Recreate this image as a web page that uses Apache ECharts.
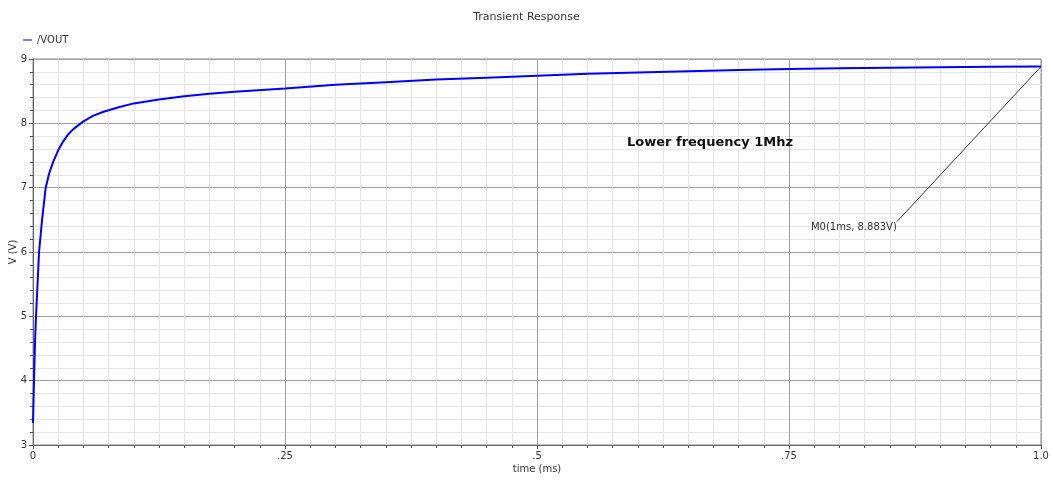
<!DOCTYPE html>
<html>
<head>
<meta charset="utf-8">
<script src="https://cdn.jsdelivr.net/npm/echarts@6/dist/echarts.min.js"></script>
<style>
  html, body { margin: 0; padding: 0; background: #fff; }
  #chart { width: 1053px; height: 484px; }
</style>
</head>
<body>
<div id="chart"></div>
<script>
// time (ms) and /VOUT (V)
var timeMs = [0, 0.001, 0.002, 0.003, 0.0045, 0.006, 0.009, 0.0126, 0.016, 0.02, 0.025, 0.03, 0.035,
  0.04, 0.05, 0.06, 0.07, 0.085, 0.1, 0.125, 0.15, 0.175, 0.2, 0.25, 0.3, 0.35, 0.4, 0.45, 0.5,
  0.55, 0.6, 0.65, 0.7, 0.75, 0.8, 0.85, 0.9, 0.95, 1.0];
var vout = [3.34, 4.0, 4.6, 5.0, 5.5, 6.0, 6.5, 7.0, 7.22, 7.4, 7.58, 7.72, 7.83,
  7.91, 8.03, 8.12, 8.18, 8.25, 8.31, 8.37, 8.42, 8.46, 8.49, 8.54, 8.6, 8.64, 8.68, 8.71, 8.74,
  8.77, 8.79, 8.81, 8.83, 8.845, 8.855, 8.865, 8.873, 8.878, 8.883];
var xTicks = { 0: "0", 0.25: ".25", 0.5: ".5", 0.75: ".75", 1: "1.0" };
var marker = { t: 1.0, v: 8.883, labelT: 0.857, labelV: 6.47, text: "M0(1ms, 8.883V)" };
var note = "Lower frequency 1Mhz";

var chartDom = document.getElementById("chart");
var myChart = echarts.init(chartDom);
var points = timeMs.map(function (t, i) {
  return [t, vout[i]];
});
var font = "DejaVu Sans";
var option = {
  animation: false,
  textStyle: { fontFamily: font },
  title: {
    text: "Transient Response",
    left: "center",
    top: 7,
    textStyle: { fontSize: 11, fontWeight: "normal", color: "#333", fontFamily: font },
  },
  legend: {
    left: 18,
    top: 30,
    icon: "rect",
    itemWidth: 9,
    itemHeight: 2,
    itemGap: 4,
    textStyle: { fontSize: 10, color: "#333", fontFamily: font },
    data: [{ name: "/VOUT", itemStyle: { color: "#7b7bff" } }],
  },
  grid: { left: 33, right: 12, top: 59, bottom: 39, containLabel: false, outerBoundsMode: "none" },
  xAxis: {
    type: "value",
    min: 0,
    max: 1,
    interval: 0.25,
    name: "time (ms)",
    nameLocation: "middle",
    nameGap: 19,
    nameMoveOverlap: false,
    nameTextStyle: { fontSize: 10, color: "#333" },
    axisLine: { lineStyle: { color: "#666" } },
    axisTick: { length: 4, lineStyle: { color: "#555" } },
    minorTick: { show: true, splitNumber: 10, length: 3, lineStyle: { color: "#555" } },
    axisLabel: {
      fontSize: 10,
      color: "#333",
      margin: 6,
      formatter: function (v) {
        return xTicks[v] !== undefined ? xTicks[v] : "";
      },
    },
    splitLine: { show: true, lineStyle: { color: "#a0a0a0", width: 1 } },
    minorSplitLine: { show: true, lineStyle: { color: "#e4e4e4", width: 1 } },
  },
  yAxis: {
    type: "value",
    min: 3,
    max: 9,
    interval: 1,
    name: "V (V)",
    nameLocation: "middle",
    nameGap: 15,
    nameMoveOverlap: false,
    nameRotate: 90,
    nameTextStyle: { fontSize: 10, color: "#333" },
    axisLine: { show: true, lineStyle: { color: "#666" } },
    axisTick: { show: true, length: 4, lineStyle: { color: "#555" } },
    minorTick: { show: true, splitNumber: 5, length: 3, lineStyle: { color: "#555" } },
    axisLabel: { fontSize: 10, color: "#333", margin: 6 },
    splitLine: { show: true, lineStyle: { color: "#a0a0a0", width: 1 } },
    minorSplitLine: { show: true, lineStyle: { color: "#e4e4e4", width: 1 } },
  },
  graphic: [
    {
      // plot box top/right border
      type: "rect",
      shape: { x: 33, y: 59, width: 1008, height: 386 },
      style: { fill: "none", stroke: "#888", lineWidth: 1 },
      silent: true,
      z: 0,
    },
    {
      type: "text",
      left: 627,
      top: 136,
      z: 100,
      style: { text: note, fontSize: 13, fontWeight: "bold", fill: "#111", fontFamily: font },
    },
  ],
  series: [
    {
      name: "/VOUT",
      type: "line",
      data: points,
      showSymbol: false,
      smooth: false,
      lineStyle: { color: "#0000ff", width: 2 },
      itemStyle: { color: "#0000ff" },
      markLine: {
        silent: true,
        symbol: "none",
        lineStyle: { color: "#333", width: 1, type: "solid" },
        label: { show: false },
        data: [[{ coord: [marker.t, marker.v] }, { coord: [marker.labelT, marker.labelV] }]],
      },
      markPoint: {
        silent: true,
        symbol: "circle",
        symbolSize: 0,
        data: [
          {
            coord: [marker.labelT, marker.labelV],
            label: {
              show: true,
              position: "left",
              distance: 0,
              offset: [0, 6],
              formatter: marker.text,
              fontSize: 10,
              color: "#333",
              fontFamily: font,
            },
          },
        ],
      },
    },
  ],
};
option && myChart.setOption(option);
</script>
</body>
</html>
